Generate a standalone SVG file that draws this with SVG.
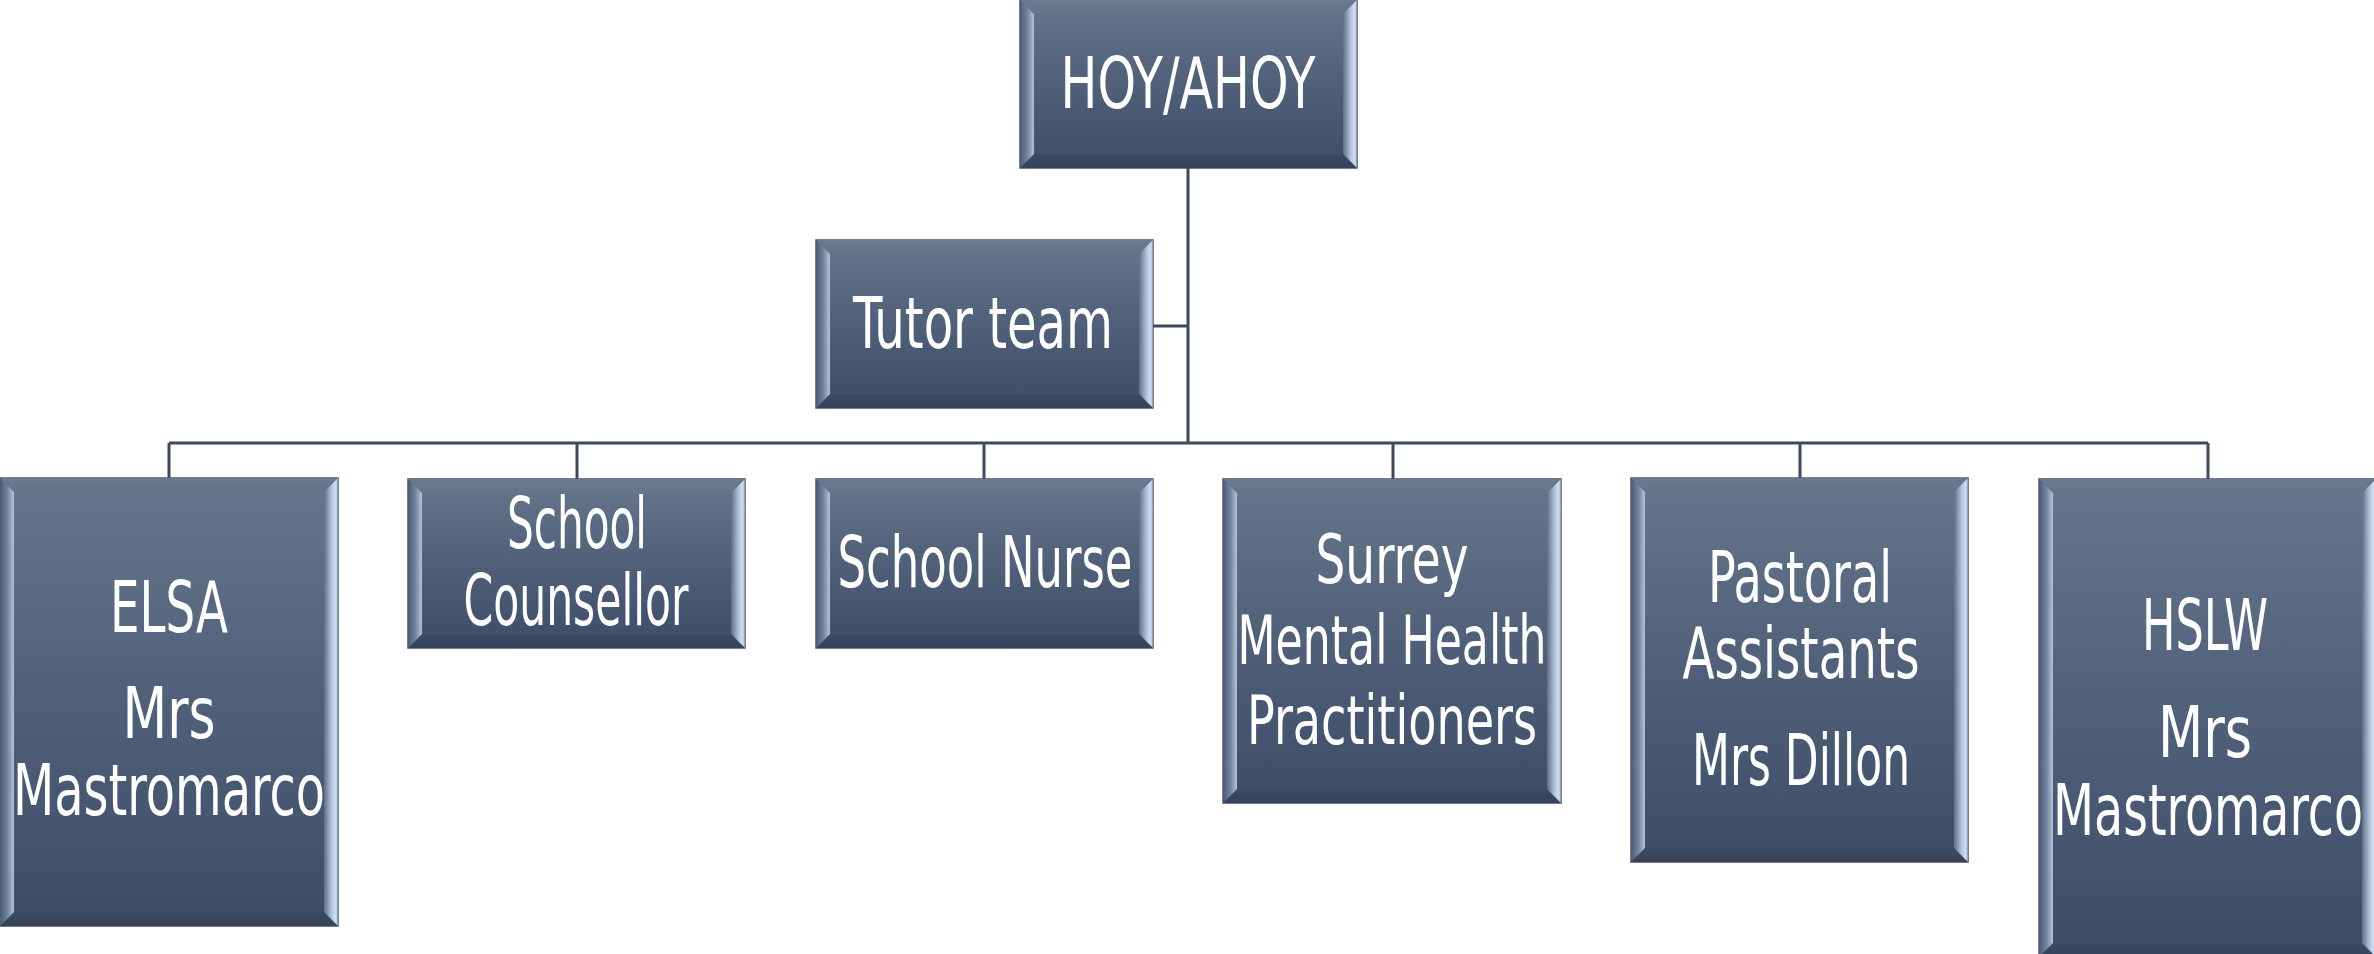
<svg xmlns="http://www.w3.org/2000/svg" width="2374" height="954" viewBox="0 0 2374 954">
<defs>
<linearGradient id="face" x1="0" y1="0" x2="0" y2="1">
<stop offset="0" stop-color="#66768b"/>
<stop offset="0.45" stop-color="#52627b"/>
<stop offset="1" stop-color="#3d4d68"/>
</linearGradient>
<linearGradient id="bl" x1="0" y1="0" x2="1" y2="0">
<stop offset="0" stop-color="#4c5b73"/>
<stop offset="0.55" stop-color="#7586a0"/>
<stop offset="1" stop-color="#b4c4da"/>
</linearGradient>
<linearGradient id="br" x1="0" y1="0" x2="1" y2="0">
<stop offset="0" stop-color="#5e6e87"/>
<stop offset="0.55" stop-color="#b3c4dc"/>
<stop offset="0.85" stop-color="#d2e0f2"/>
<stop offset="1" stop-color="#8193ab"/>
</linearGradient>
<linearGradient id="bt" x1="0" y1="0" x2="0" y2="1">
<stop offset="0" stop-color="#6a798e"/>
<stop offset="1" stop-color="#647489"/>
</linearGradient>
<linearGradient id="bb" x1="0" y1="0" x2="0" y2="1">
<stop offset="0" stop-color="#3c4b64"/>
<stop offset="1" stop-color="#34425a"/>
</linearGradient>
</defs>
<style>
.face{fill:url(#face);stroke:#45536a;stroke-width:1.5}
.bl{fill:url(#bl)}
.br{fill:url(#br)}
.bt{fill:url(#bt)}
.bb{fill:url(#bb)}
.lbl{fill:#ffffff;font-family:"Liberation Sans Narrow","DejaVu Sans Condensed","Liberation Sans",sans-serif;font-size:72px;text-anchor:middle}
.sm{font-size:68px}
.conn{stroke:#3d4a5c;stroke-width:3;fill:none}
</style>
<rect width="2374" height="954" fill="#ffffff"/>
<g id="connectors">
<path class="conn" d="M1188,168 V443"/>
<path class="conn" d="M1153,326 H1188"/>
<path class="conn" d="M169,443 H2208"/>
<path class="conn" d="M169,443 V478"/>
<path class="conn" d="M577,443 V479"/>
<path class="conn" d="M984,443 V479"/>
<path class="conn" d="M1393,443 V479"/>
<path class="conn" d="M1800,443 V478"/>
<path class="conn" d="M2208,443 V479"/>
</g>
<g id="hoy">
<rect class="face" x="1020" y="0" width="337" height="168"/>
<polygon class="bt" points="1020,0 1357,0 1343,14 1034,14"/>
<polygon class="bb" points="1020,168 1357,168 1343,154 1034,154"/>
<polygon class="bl" points="1020,0 1034,14 1034,154 1020,168"/>
<polygon class="br" points="1343,14 1357,0 1357,168 1343,154"/>
<text class="lbl" x="1188" y="108" textLength="255" lengthAdjust="spacingAndGlyphs">HOY/AHOY</text>
</g>
<g id="tutor">
<rect class="face" x="816" y="240" width="337" height="168"/>
<polygon class="bt" points="816,240 1153,240 1139,254 830,254"/>
<polygon class="bb" points="816,408 1153,408 1139,394 830,394"/>
<polygon class="bl" points="816,240 830,254 830,394 816,408"/>
<polygon class="br" points="1139,254 1153,240 1153,408 1139,394"/>
<text class="lbl" x="983" y="348" textLength="260" lengthAdjust="spacingAndGlyphs">Tutor team</text>
</g>
<g id="elsa">
<rect class="face" x="0" y="478" width="338" height="448"/>
<polygon class="bt" points="0,478 338,478 324,492 14,492"/>
<polygon class="bb" points="0,926 338,926 324,912 14,912"/>
<polygon class="bl" points="0,478 14,492 14,912 0,926"/>
<polygon class="br" points="324,492 338,478 338,926 324,912"/>
<text class="lbl" x="169" y="632" textLength="118" lengthAdjust="spacingAndGlyphs">ELSA</text>
<text class="lbl" x="169" y="738" textLength="93" lengthAdjust="spacingAndGlyphs">Mrs</text>
<text class="lbl" x="169" y="815" textLength="312" lengthAdjust="spacingAndGlyphs">Mastromarco</text>
</g>
<g id="counsellor">
<rect class="face" x="408" y="479" width="337" height="169"/>
<polygon class="bt" points="408,479 745,479 731,493 422,493"/>
<polygon class="bb" points="408,648 745,648 731,634 422,634"/>
<polygon class="bl" points="408,479 422,493 422,634 408,648"/>
<polygon class="br" points="731,493 745,479 745,648 731,634"/>
<text class="lbl" x="577" y="548" textLength="140" lengthAdjust="spacingAndGlyphs">School</text>
<text class="lbl" x="576" y="625" textLength="225" lengthAdjust="spacingAndGlyphs">Counsellor</text>
</g>
<g id="nurse">
<rect class="face" x="816" y="479" width="337" height="169"/>
<polygon class="bt" points="816,479 1153,479 1139,493 830,493"/>
<polygon class="bb" points="816,648 1153,648 1139,634 830,634"/>
<polygon class="bl" points="816,479 830,493 830,634 816,648"/>
<polygon class="br" points="1139,493 1153,479 1153,648 1139,634"/>
<text class="lbl" x="985" y="587" textLength="295" lengthAdjust="spacingAndGlyphs">School Nurse</text>
</g>
<g id="surrey">
<rect class="face" x="1223" y="479" width="338" height="324"/>
<polygon class="bt" points="1223,479 1561,479 1547,493 1237,493"/>
<polygon class="bb" points="1223,803 1561,803 1547,789 1237,789"/>
<polygon class="bl" points="1223,479 1237,493 1237,789 1223,803"/>
<polygon class="br" points="1547,493 1561,479 1561,803 1547,789"/>
<text class="lbl sm" x="1392" y="583" textLength="153" lengthAdjust="spacingAndGlyphs">Surrey</text>
<text class="lbl sm" x="1392" y="664" textLength="309" lengthAdjust="spacingAndGlyphs">Mental Health</text>
<text class="lbl sm" x="1392" y="744" textLength="290" lengthAdjust="spacingAndGlyphs">Practitioners</text>
</g>
<g id="pastoral">
<rect class="face" x="1631" y="478" width="337" height="384"/>
<polygon class="bt" points="1631,478 1968,478 1954,492 1645,492"/>
<polygon class="bb" points="1631,862 1968,862 1954,848 1645,848"/>
<polygon class="bl" points="1631,478 1645,492 1645,848 1631,862"/>
<polygon class="br" points="1954,492 1968,478 1968,862 1954,848"/>
<text class="lbl" x="1800" y="602" textLength="184" lengthAdjust="spacingAndGlyphs">Pastoral</text>
<text class="lbl" x="1801" y="678" textLength="237" lengthAdjust="spacingAndGlyphs">Assistants</text>
<text class="lbl" x="1801" y="785" textLength="218" lengthAdjust="spacingAndGlyphs">Mrs Dillon</text>
</g>
<g id="hslw">
<rect class="face" x="2039" y="479" width="337" height="478"/>
<polygon class="bt" points="2039,479 2376,479 2362,493 2053,493"/>
<polygon class="bb" points="2039,957 2376,957 2362,943 2053,943"/>
<polygon class="bl" points="2039,479 2053,493 2053,943 2039,957"/>
<polygon class="br" points="2362,493 2376,479 2376,957 2362,943"/>
<text class="lbl" x="2205" y="650" textLength="126" lengthAdjust="spacingAndGlyphs">HSLW</text>
<text class="lbl" x="2205" y="757" textLength="94" lengthAdjust="spacingAndGlyphs">Mrs</text>
<text class="lbl" x="2208" y="835" textLength="310" lengthAdjust="spacingAndGlyphs">Mastromarco</text>
</g>
</svg>
